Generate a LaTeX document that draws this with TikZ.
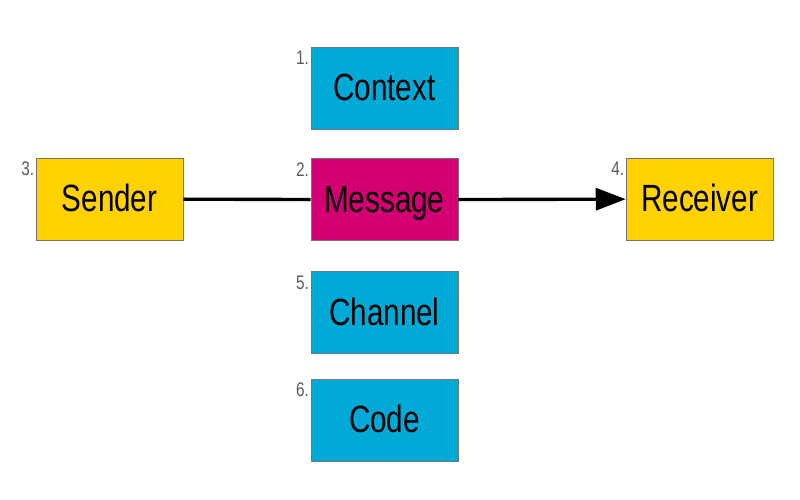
\documentclass[tikz,border=0pt]{standalone}
\usepackage{fontspec}
\setmainfont{Liberation Sans}[FakeStretch=0.78]
\usetikzlibrary{positioning,arrows.meta}

\definecolor{boxcyan}{RGB}{0,169,214}
\definecolor{boxyellow}{RGB}{255,210,0}
\definecolor{boxmagenta}{RGB}{212,0,115}
\definecolor{numgrey}{RGB}{90,90,90}

\tikzset{
  part/.style={draw=black!55,line width=0.5pt,minimum width=3.675cm,minimum height=2.05cm,
    inner sep=0pt,text height=18pt,text depth=0pt,font=\fontsize{27}{30}\selectfont,text=black},
  ctx/.style={part,fill=boxcyan},
  actor/.style={part,fill=boxyellow},
  msg/.style={part,fill=boxmagenta},
  num/.style={anchor=north east,inner sep=0pt,font=\fontsize{14}{15}\selectfont,text=numgrey},
  flow/.style={line width=2.4pt}
}

\begin{document}
\begin{tikzpicture}
        \useasboundingbox (0,0) rectangle (20,12.5);
        \node[ctx] (context) at (9.61,10.3) {Context};
        \node[msg,below=0.725cm of context] (message) {Message};
        \node[ctx,below=0.75cm of message] (channel) {Channel};
        \node[ctx,below=0.625cm of channel] (code) {Code};
        \node[actor] (sender) at (2.74,7.525) {Sender};
        \node[actor] (receiver) at (17.49,7.525) {Receiver};
        % numbering
        \node[num] at ([xshift=-1pt,yshift=-3pt]context.north west) {1.};
        \node[num] at ([xshift=-1pt,yshift=-3pt]message.north west) {2.};
        \node[num] at ([xshift=-1pt,yshift=-3pt]sender.north west) {3.};
        \node[num] at ([xshift=-1pt,yshift=-3pt]receiver.north west) {4.};
        \node[num] at ([xshift=-1pt,yshift=-3pt]channel.north west) {5.};
        \node[num] at ([xshift=-1pt,yshift=-3pt]code.north west) {6.};
        \draw[flow] (sender) -- (message);
        \draw[flow,-{Triangle[length=0.75cm,width=0.55cm]}] (message) -- (receiver);
    \end{tikzpicture}
\end{document}
